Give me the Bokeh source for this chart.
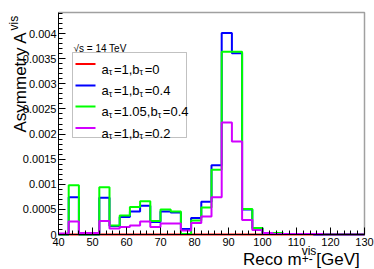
import math
from bokeh.plotting import figure
from bokeh.models import (Label, BoxAnnotation, SingleIntervalTicker, FixedTicker,
                          NumeralTickFormatter, Range1d, LinearAxis)
from bokeh.embed import file_html
from bokeh.resources import INLINE

# ---------------- data ----------------
bin_edges = list(range(40, 131, 3))  # 30 bins of 3 GeV

red_vals = [0.0] * 30

blue_vals = [0.0, 0.00074, 0.0, 0.0, 0.00073, 0.00017, 0.00035, 0.00046, 0.00057, 0.00025,
             0.00046, 0.00044, 0.00011, 0.00033, 0.00065, 0.00138, 0.00401, 0.00361, 0.00050, 0.00013,
             0.00002, 0.00001, 0.00001, 0.00001, 0.00001, 0.0, 0.0, 0.0, 0.0, 0.0]

green_vals = [0.0, 0.00098, 0.0, 0.0, 0.00094, 0.00018, 0.00038, 0.00055, 0.00066, 0.00027,
              0.00050, 0.00046, 0.00001, 0.00028, 0.00054, 0.00129, 0.00364, 0.00364, 0.00051, 0.00013,
              0.00003, 0.00003, 0.00001, 0.00001, 0.00001, 0.00001, 0.0, 0.0, 0.0, 0.0]

magenta_vals = [0.00002, 0.00026, 0.00003, 0.00003, 0.00027, 0.00012, 0.00015, 0.00018, 0.00026, 0.00015,
                0.00022, 0.00022, 0.00008, 0.00023, 0.00036, 0.00074, 0.00223, 0.00185, 0.00029, 0.00009,
                0.00003, 0.00001, 0.00001, 0.00001, 0.00001, 0.00001, 0.0, 0.0, 0.0, 0.0]

series_vals = [red_vals, blue_vals, green_vals, magenta_vals]
series_colors = ["#ff0000", "#0000ff", "#00ff00", "#d200ff"]
legend_a = ["1", "1", "1.05", "1"]
legend_b = ["0", "0.4", "0.4", "0.2"]

ytick_vals = [0, 0.0005, 0.001, 0.0015, 0.002, 0.0025, 0.003, 0.0035, 0.004]
X_MIN, X_MAX = 40, 130
Y_MAX = 0.00442

# ---------------- layout (canvas pixels) ----------------
W, H = 374, 269
FRAME_L, FRAME_R, FRAME_T, FRAME_B = 58, 364, 12, 234
FONT = "Liberation Sans"

def dx(px):
    return X_MIN + (px - FRAME_L) * (X_MAX - X_MIN) / (FRAME_R - FRAME_L)

def dy(py):
    return (FRAME_B - py) * Y_MAX / (FRAME_B - FRAME_T)

CW = {'a': .556, 'b': .556, '=': .584, '1': .556, '0': .556, '2': .556, '4': .556, '5': .556,
      ',': .278, '.': .278, 'τ': .52, 'v': .5, 'i': .222, 's': .5, '+': .584, '-': .333, ' ': .278,
      '[': .278, ']': .278, 'G': .778, 'e': .556, 'V': .667, 'R': .722, 'c': .5, 'o': .556,
      'm': .833, 'A': .667, 'y': .5, 't': .278, 'r': .333}

def tw(s, size):
    return sum(CW.get(c, .556) for c in s) * size

# the plotting frame covers the whole canvas; axes sit at fixed data locations
p = figure(width=W, height=H, output_backend="svg", toolbar_location=None,
           x_range=Range1d(dx(0), dx(W)), y_range=Range1d(dy(H), dy(0)),
           x_axis_location=None, y_axis_location=None, min_border=0)
p.xgrid.visible = False
p.ygrid.visible = False
p.outline_line_color = None
p.background_fill_color = "white"
p.border_fill_color = "white"

xaxis = LinearAxis(fixed_location=0, bounds=(X_MIN, X_MAX),
                   ticker=SingleIntervalTicker(interval=10, num_minor_ticks=5))
minor_y = [i * 0.0001 for i in range(0, 45)]
yaxis = LinearAxis(fixed_location=X_MIN, bounds=(0, Y_MAX),
                   ticker=FixedTicker(ticks=ytick_vals, minor_ticks=minor_y),
                   formatter=NumeralTickFormatter(format="0.[0000]"))
for ax in (xaxis, yaxis):
    ax.major_tick_in = 7
    ax.major_tick_out = 0
    ax.minor_tick_in = 4
    ax.minor_tick_out = 0
    ax.axis_line_color = "black"
    ax.major_tick_line_color = "black"
    ax.minor_tick_line_color = "black"
    ax.major_label_text_font = FONT
    ax.major_label_text_font_size = "11px"
    ax.major_label_text_color = "black"
xaxis.major_label_standoff = 3
yaxis.major_label_standoff = 2
p.add_layout(xaxis, "below")
p.add_layout(yaxis, "left")

# frame border (top and right)
p.line(x=[X_MIN, X_MAX, X_MAX], y=[Y_MAX, Y_MAX, 0], line_color="#a0a0a0", line_width=1.5)

for vals, col in zip(series_vals, series_colors):
    p.step(x=bin_edges, y=vals + [vals[-1]], mode="after", line_color=col, line_width=2)

def lab(x, y, text, size, **kw):
    p.add_layout(Label(x=dx(x), y=dy(y), text=text, text_font=FONT,
                       text_font_size=f"{size}px", text_color="black", **kw))

# y axis title (rotated, top aligned)
YB, Y0 = 20, 132
lab(YB, Y0, "Asymmetry A", 17, angle=math.pi / 2, text_align="left", text_baseline="alphabetic")
lab(YB - 7, Y0 - tw("Asymmetry A", 17) - 1, "vis", 12, angle=math.pi / 2,
    text_align="left", text_baseline="alphabetic")

# x axis title (right aligned)
XB = 259
right = FRAME_R
lab(right, XB, " [GeV]", 17, text_align="right", text_baseline="alphabetic")
sx = right - tw(" [GeV]", 17) - max(tw("vis", 12), tw("+-", 12))
lab(sx, XB - 9, "vis", 12, text_align="left", text_baseline="alphabetic")
lab(sx, XB - 1, "+-", 12, text_align="left", text_baseline="alphabetic")
lab(sx, XB, "Reco m", 17, text_align="right", text_baseline="alphabetic")

# sqrt(s)
lab(73, 48, "√s = 14 TeV", 10, text_align="left", text_baseline="alphabetic")

# legend
p.add_layout(BoxAnnotation(left=dx(72), right=dx(186), top=dy(52), bottom=dy(137),
                           fill_color="white", fill_alpha=1, line_color="#333333",
                           line_width=1))
row_y = [63.5, 85, 106, 127.5]
for ry, col, a, b in zip(row_y, series_colors, legend_a, legend_b):
    p.add_layout(BoxAnnotation(left=dx(75), right=dx(95), top=dy(ry - 1), bottom=dy(ry + 1),
                               fill_color=col, fill_alpha=1, line_alpha=0))
    cx = 101
    base = ry + 5
    pieces = [("a", 13, 0), ("τ", 9, 3), ("=" + a + ",b", 13, 0), ("τ", 9, 3), ("=" + b, 13, 0)]
    for txt, sz, off in pieces:
        lab(cx, base + off, txt, sz, text_align="left", text_baseline="alphabetic")
        cx += tw(txt, sz) + (0.5 if sz < 13 else 0)

open("out.html", "w").write(file_html(p, INLINE))
